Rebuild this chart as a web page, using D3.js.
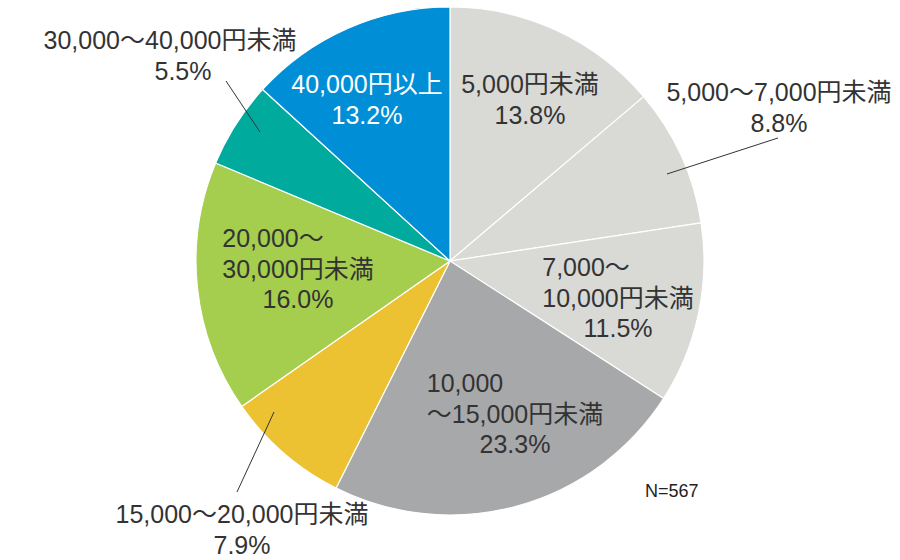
<!DOCTYPE html>
<html><head><meta charset="utf-8">
<script src="https://cdn.jsdelivr.net/npm/d3@7"></script>
<style>
body{margin:0;background:#fff;}
text{font-family:"Liberation Sans",Arial,"Noto Sans CJK JP",sans-serif;}
</style></head>
<body><svg id="c" width="900" height="560"></svg>
<script>
const categories = ["5,000円未満","5,000～7,000円未満","7,000～10,000円未満","10,000～15,000円未満","15,000～20,000円未満","20,000～30,000円未満","30,000～40,000円未満","40,000円以上"];
const values = [13.8, 8.8, 11.5, 23.3, 7.9, 16.0, 5.5, 13.2];
const valueLabels = ["13.8%","8.8%","11.5%","23.3%","7.9%","16.0%","5.5%","13.2%"];
const colors = ["#d9d9d6","#d9d9d6","#d9d9d6","#a7a8aa","#ecc132","#a5cd4e","#00aa9c","#008fd6"];
const sampleNote = "N=567";

// label layout (text lines, positions) – presentation only
const labelLayout = [
  {lines:[["5,000円未満","middle"],["13.8%","middle"]], x:530, y:93, color:"#333"},
  {lines:[["5,000～7,000円未満","middle"],["8.8%","middle"]], x:779, y:101, color:"#333", leader:[[667,174],[778,138]]},
  {lines:[["7,000～","start"],["10,000円未満","middle"],["11.5%","middle"]], x:618, y:276, color:"#333"},
  {lines:[["10,000","start"],["～15,000円未満","middle"],["23.3%","middle"]], x:515, y:392, color:"#333"},
  {lines:[["15,000～20,000円未満","middle"],["7.9%","middle"]], x:242, y:523, color:"#333", leader:[[274,412],[237,492]]},
  {lines:[["20,000～","start"],["30,000円未満","middle"],["16.0%","middle"]], x:298, y:247, color:"#333"},
  {lines:[["30,000～40,000円未満","middle"],["5.5%","middle"]], x:170, y:49, color:"#333", leader:[[226,81],[260,132]], pctX:183},
  {lines:[["40,000円以上","middle"],["13.2%","middle"]], x:367, y:93, color:"#fff"}
];

const svg = d3.select("#c");
const cx = 450, cy = 261, R = 254;
const g = svg.append("g").attr("transform", `translate(${cx},${cy})`);
const pie = d3.pie().sort(null).value(d => d)(values);
const arc = d3.arc().innerRadius(0).outerRadius(R);
g.selectAll("path").data(pie).join("path")
  .attr("d", arc)
  .attr("fill", (d,i) => colors[i])
  .attr("stroke", "#fff").attr("stroke-width", 1.2).attr("stroke-linejoin","round");

// leader lines
labelLayout.forEach(l => {
  if (l.leader) {
    svg.append("line")
      .attr("x1", l.leader[0][0]).attr("y1", l.leader[0][1])
      .attr("x2", l.leader[1][0]).attr("y2", l.leader[1][1])
      .attr("stroke", "#333").attr("stroke-width", 1);
  }
});

const fs = 25, lh = 30.5;
labelLayout.forEach((l, idx) => {
  const grp = svg.append("g");
  const ref = l.lines.find(t => t[1] === "middle" && t[0] !== valueLabels[idx]) || l.lines[0];
  const tmp = grp.append("text").attr("font-size", fs).text(ref[0]);
  const w = tmp.node().getComputedTextLength();
  tmp.remove();
  l.lines.forEach((ln, k) => {
    let x = l.x, anchor = "middle";
    if (ln[1] === "start") { x = l.x - w/2; anchor = "start"; }
    if (ln[0] === valueLabels[idx] && l.pctX) x = l.pctX;
    grp.append("text")
      .attr("x", x).attr("y", l.y + k*lh)
      .attr("text-anchor", anchor)
      .attr("font-size", fs)
      .attr("fill", l.color)
      .text(ln[0]);
  });
});

svg.append("text").attr("x", 645).attr("y", 497)
  .attr("font-size", 18).attr("fill", "#222").text(sampleNote);
</script></body></html>
